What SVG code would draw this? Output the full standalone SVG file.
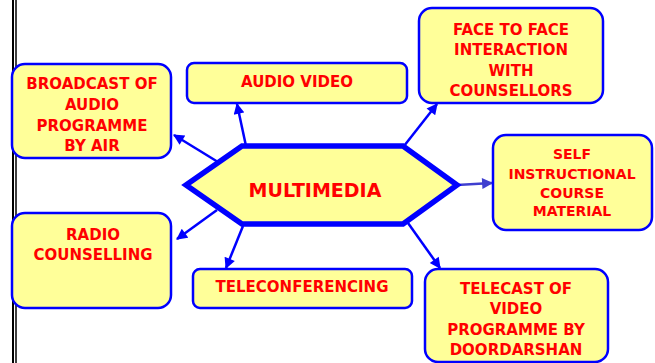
<svg xmlns="http://www.w3.org/2000/svg" width="655" height="363" viewBox="0 0 655 363">
<style>
.box{fill:#FFFF99;stroke:#0000FF;stroke-width:2.5}
.t{font-family:"DejaVu Sans",Verdana,sans-serif;font-weight:bold;fill:#FF0000;text-anchor:middle;font-size:15px}
.s{font-size:14px}
.c{stroke:#0000FF;stroke-width:2.5;fill:none}
</style>
<defs>
<marker id="ah" viewBox="0 0 10 10" refX="9" refY="5" markerWidth="5" markerHeight="4.4" orient="auto" markerUnits="strokeWidth">
<path d="M0,0 L10,5 L0,10 z" fill="#0000FF"/>
</marker>
<marker id="ah2" viewBox="0 0 10 10" refX="9" refY="5" markerWidth="5" markerHeight="4.4" orient="auto" markerUnits="strokeWidth">
<path d="M0,0 L10,5 L0,10 z" fill="#3F3FCF"/>
</marker>
</defs>
<rect width="655" height="363" fill="#FFFFFF"/>
<g id="border">
<line x1="13" y1="0" x2="13" y2="363" stroke="#000" stroke-width="2"/>
<line x1="16" y1="0" x2="16" y2="363" stroke="#000" stroke-width="1.5"/>
</g>
<g id="connectors">
<line class="c" x1="218" y1="162" x2="174" y2="135" marker-end="url(#ah)"/>
<line class="c" x1="246" y1="146" x2="237" y2="104" marker-end="url(#ah)"/>
<line class="c" x1="404" y1="146" x2="437" y2="104" marker-end="url(#ah)"/>
<line x1="457" y1="185" x2="492" y2="183" stroke="#3F3FCF" stroke-width="2.5" marker-end="url(#ah2)"/>
<line class="c" x1="217" y1="210" x2="177" y2="239" marker-end="url(#ah)"/>
<line class="c" x1="243" y1="226" x2="226" y2="268" marker-end="url(#ah)"/>
<line class="c" x1="408" y1="223" x2="440" y2="268" marker-end="url(#ah)"/>
</g>
<g id="multimedia">
<polygon points="186,185 242,146 403,146 457,185 403,224 242,224" fill="#FFFF99" stroke="#0000FF" stroke-width="5.5" stroke-linejoin="miter"/>
<text class="t" x="315" y="197" style="font-size:19px">MULTIMEDIA</text>
</g>
<g id="broadcast">
<rect class="box" x="12" y="64" width="159" height="94" rx="13"/>
<text class="t" x="92" y="89">BROADCAST OF</text>
<text class="t" x="92" y="110">AUDIO</text>
<text class="t" x="92" y="131">PROGRAMME</text>
<text class="t" x="92" y="151">BY AIR</text>
</g>
<g id="audiovideo">
<rect class="box" x="187" y="63" width="220" height="40" rx="7"/>
<text class="t" x="297" y="87">AUDIO VIDEO</text>
</g>
<g id="facetoface">
<rect class="box" x="419" y="8" width="184" height="95" rx="13"/>
<text class="t" x="511" y="35">FACE TO FACE</text>
<text class="t" x="511" y="55">INTERACTION</text>
<text class="t" x="511" y="76">WITH</text>
<text class="t" x="511" y="96">COUNSELLORS</text>
</g>
<g id="selfinstructional">
<rect class="box" x="493" y="135" width="159" height="95" rx="13"/>
<text class="t s" x="572" y="159">SELF</text>
<text class="t s" x="572" y="179">INSTRUCTIONAL</text>
<text class="t s" x="572" y="198">COURSE</text>
<text class="t s" x="572" y="216">MATERIAL</text>
</g>
<g id="radio">
<rect class="box" x="12" y="213" width="159" height="95" rx="13"/>
<text class="t" x="93" y="240">RADIO</text>
<text class="t" x="93" y="260">COUNSELLING</text>
</g>
<g id="teleconferencing">
<rect class="box" x="193" y="269" width="219" height="39" rx="7"/>
<text class="t" x="302" y="292">TELECONFERENCING</text>
</g>
<g id="telecast">
<rect class="box" x="425" y="269" width="183" height="93" rx="13"/>
<text class="t" x="516" y="294">TELECAST OF</text>
<text class="t" x="516" y="314">VIDEO</text>
<text class="t" x="516" y="335">PROGRAMME BY</text>
<text class="t" x="516" y="355">DOORDARSHAN</text>
</g>
</svg>
